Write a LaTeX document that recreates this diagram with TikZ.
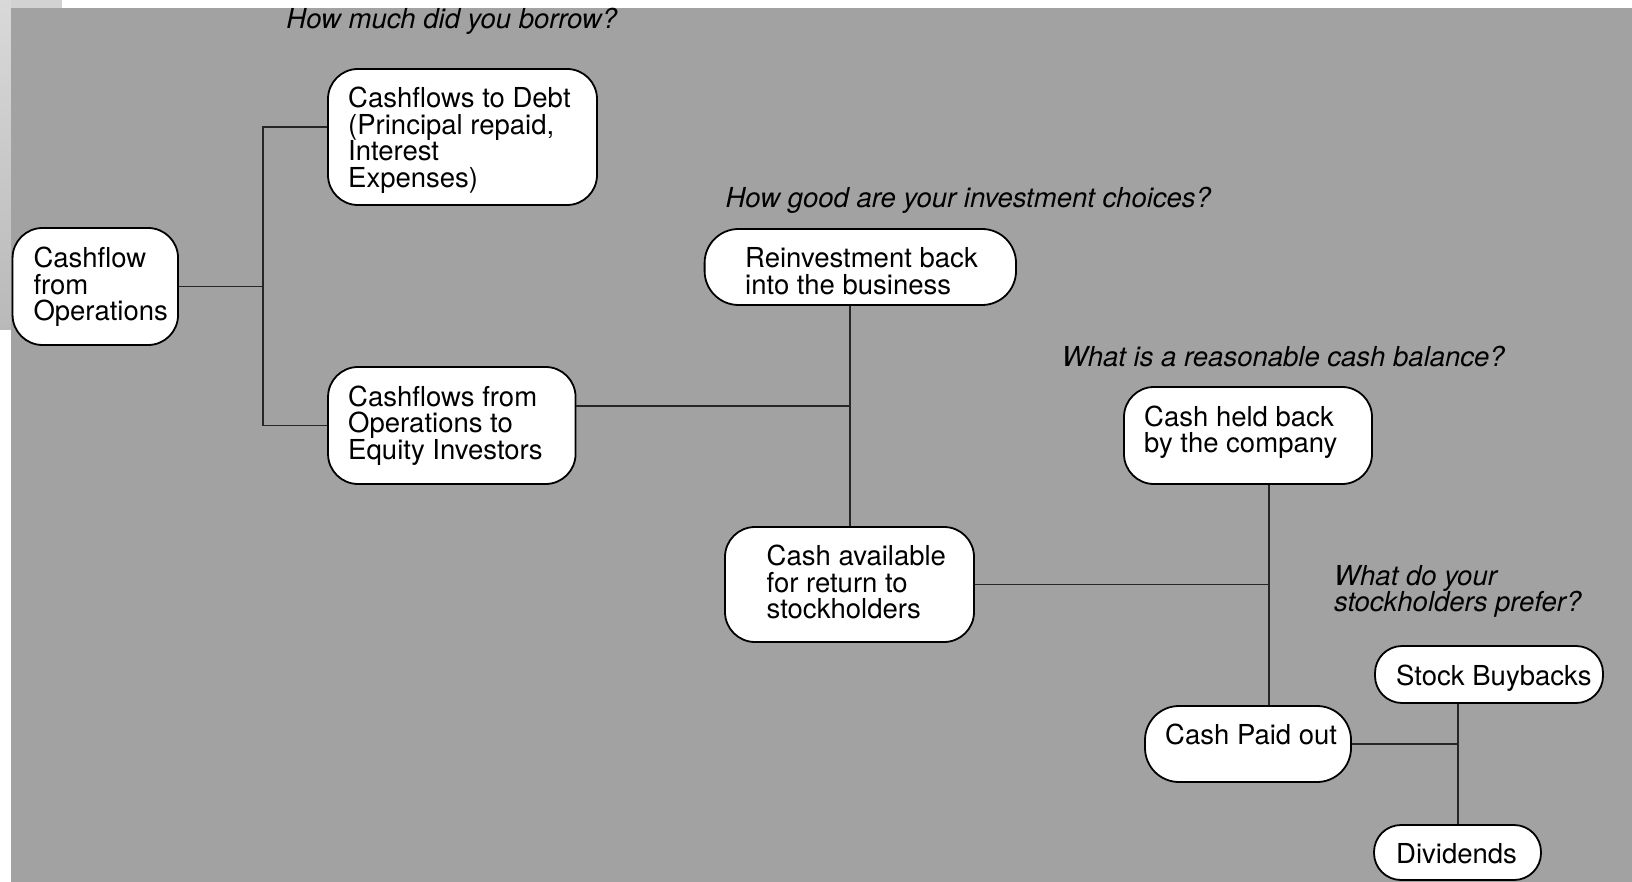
\documentclass[tikz,border=0pt]{standalone}
\usepackage{fontspec}
\setmainfont{TeX Gyre Heros}
\definecolor{bggray}{HTML}{A2A2A2}
\begin{document}
\begin{tikzpicture}[x=1pt,y=-1pt,
  box/.style={draw=black, line width=1.8pt, fill=white, rounded corners=30pt, inner sep=0pt},
  txt/.style={anchor=base west, inner sep=0pt, align=flush left, text width=330pt, font=\fontsize{27.5}{26.5}\selectfont},
  conn/.style={draw=black!85, line width=1.3pt},
  q/.style={anchor=base west, inner sep=0pt, align=flush left, text width=600pt, font=\fontsize{27.5}{26.7}\selectfont\itshape}]
\useasboundingbox (0,0) rectangle (1632,882);
\fill[white] (0,0) rectangle (1632,882);
\shade[top color=gray!30, bottom color=gray!55] (0,0) rectangle (11,330);
\fill[gray!35] (11,0) rectangle (62,8);
\fill[bggray] (11,8) rectangle (1632,882);

% boxes
\node[box, minimum width=165.5pt, minimum height=117pt] (cfo) at (95.3,286.5) {};
\node[box, minimum width=269pt, minimum height=136pt] (debt) at (462.5,137) {};
\node[box, minimum width=247.5pt, minimum height=117pt] (eq) at (451.8,425.5) {};
\node[box, rounded corners=34pt, minimum width=311.4pt, minimum height=76pt] (reinv) at (860.3,267) {};
\node[box, minimum width=249pt, minimum height=115pt] (avail) at (849.5,584.5) {};
\node[box, minimum width=248pt, minimum height=97pt] (held) at (1248,435.5) {};
\node[box, rounded corners=34pt, minimum width=206pt, minimum height=76pt] (paid) at (1248,744) {};
\node[box, rounded corners=27pt, minimum width=228pt, minimum height=57pt] (buy) at (1489,674.5) {};
\node[box, rounded corners=27pt, minimum width=167pt, minimum height=55pt] (div) at (1457.5,852.5) {};

% box texts
\node[txt] (cfo-t) at (33.3,268) {Cashflow\\from\\Operations};
\node[txt] (debt-t) at (348,108) {Cashflows to Debt\\(Principal repaid,\\Interest\\Expenses)};
\node[txt] (eq-t) at (348,406) {Cashflows from\\Operations to\\Equity Investors};
\node[txt] (reinv-t) at (745,268) {Reinvestment back\\into the business};
\node[txt] (avail-t) at (766.5,565.5) {Cash available\\for return to\\stockholders};
\node[txt] (held-t) at (1144,426) {Cash held back\\by the company};
\node[txt] (paid-t) at (1165,744.3) {Cash Paid out};
\node[txt] (buy-t) at (1396,685.5) {Stock Buybacks};
\node[txt] (div-t) at (1396,863.5) {Dividends};

% connectors
\coordinate (j1t) at (263,127);
\coordinate (j1b) at (263,425.5);
\draw[conn] (cfo.east) -- (cfo.east -| j1t);
\draw[conn] (debt.west |- j1t) -- (j1t) -- (j1b) -- (eq.west);

\coordinate (j2) at (850,406);
\draw[conn] (j2 |- reinv.south) -- (j2 |- avail.north);
\draw[conn] (eq.east |- j2) -- (j2);

\coordinate (j3) at (1269,584.5);
\draw[conn] (avail.east) -- (avail.east -| j3);
\draw[conn] (j3 |- held.south) -- (j3 |- paid.north);

\coordinate (j4) at (1458,744);
\draw[conn] (paid.east) -- (paid.east -| j4);
\draw[conn] (j4 |- buy.south) -- (j4 |- div.north);

% questions
\node[q] (q1) at (286.2,28.7) {How much did you borrow?};
\node[q] (q2) at (725.4,208) {How good are your investment choices?};
\node[q] (q3) at (1061.7,366) {What is a reasonable cash balance?};
\node[q] (q4) at (1334,585) {What do your\\stockholders prefer?};
\end{tikzpicture}
\end{document}
